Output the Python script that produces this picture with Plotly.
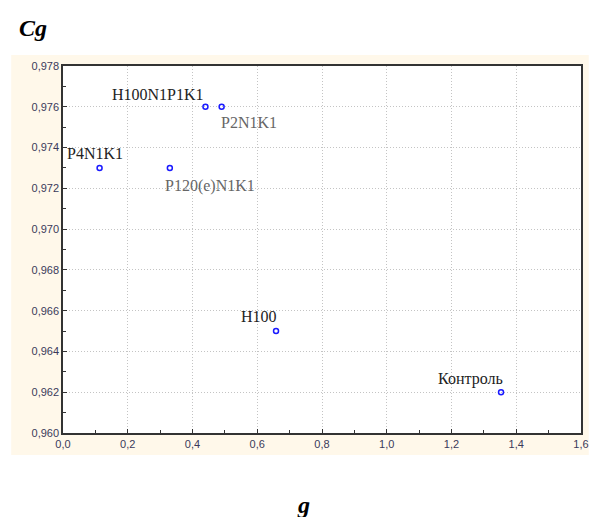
import plotly.graph_objects as go

labels = ["P4N1K1", "H100N1P1K1", "P2N1K1", "P120(e)N1K1", "H100", "Контроль"]
g_vals = [0.113, 0.44, 0.49, 0.33, 0.658, 1.353]
cg_vals = [0.973, 0.976, 0.976, 0.973, 0.965, 0.962]
x_ticks = [0.0, 0.2, 0.4, 0.6, 0.8, 1.0, 1.2, 1.4, 1.6]
y_ticks = [0.960, 0.962, 0.964, 0.966, 0.968, 0.970, 0.972, 0.974, 0.976, 0.978]

# label placement: (xanchor, yanchor, xshift, yshift, color)
placement = {
    "P4N1K1": ("center", "bottom", -5, 4, "#222222"),
    "H100N1P1K1": ("right", "bottom", 1, 2, "#222222"),
    "P2N1K1": ("left", "top", -3, -5, "#666666"),
    "P120(e)N1K1": ("left", "top", -7, -7, "#666666"),
    "H100": ("right", "bottom", 3, 4, "#222222"),
    "Контроль": ("right", "bottom", 4, 2, "#222222"),
}

fig = go.Figure()
fig.add_trace(go.Scatter(
    x=g_vals, y=cg_vals, mode="markers",
    marker=dict(symbol="circle-open", size=5, color="#1a1aff", line=dict(width=1.5, color="#1a1aff")),
    hoverinfo="skip", showlegend=False,
))

for lab, gx, cy in zip(labels, g_vals, cg_vals):
    xa, ya, xs, ys, col = placement[lab]
    fig.add_annotation(x=gx, y=cy, text=lab, showarrow=False, xanchor=xa, yanchor=ya,
                       xshift=xs, yshift=ys,
                       font=dict(family="Liberation Serif", size=16, color=col))

# cream background behind plot region
fig.add_shape(type="rect", xref="paper", yref="paper", x0=-0.10, x1=1.015, y0=-0.06, y1=1.03,
              fillcolor="#FFF8EA", line=dict(width=0), layer="below")
fig.add_shape(type="rect", xref="x domain", yref="y domain", x0=0, x1=1, y0=0, y1=1,
              fillcolor="white", line=dict(width=0), layer="below")

fig.add_annotation(xref="paper", yref="paper", x=-0.088, y=1.104, text="<b><i>Cg</i></b>",
                   showarrow=False, xanchor="left", yanchor="middle",
                   font=dict(family="Liberation Serif", size=24, color="black"))
fig.add_annotation(xref="paper", yref="paper", x=0.465, y=-0.195, text="<b><i>g</i></b>",
                   showarrow=False, xanchor="center", yanchor="middle",
                   font=dict(family="Liberation Serif", size=24, color="black"))

axis_common = dict(
    showline=True, linecolor="#333333", linewidth=1.5, mirror=True,
    showgrid=True, gridcolor="#c4c4c4", griddash="1px,2px", gridwidth=1,
    ticks="inside", ticklen=4, tickcolor="#333333",
    tickfont=dict(family="Liberation Sans", size=11, color="#3a3a5a"),
    zeroline=False,
)
fig.update_xaxes(range=[0, 1.6], tickvals=x_ticks, tickformat=".1f",
                 minor=dict(dtick=0.1, ticks="inside", ticklen=3, tickcolor="#333333", showgrid=False),
                 **axis_common)
fig.update_yaxes(range=[0.960, 0.978], tickvals=y_ticks, tickformat=".3f",
                 minor=dict(dtick=0.001, ticks="inside", ticklen=3, tickcolor="#333333", showgrid=False),
                 **axis_common)

fig.update_layout(
    width=599, height=517,
    margin=dict(l=63, r=10, t=66, b=84),
    paper_bgcolor="white", plot_bgcolor="white",
    separators=", ",
)
fig.write_html("out.html", config={"displayModeBar": False},
               post_script="document.body.style.margin='0';document.body.style.overflow='hidden';")
